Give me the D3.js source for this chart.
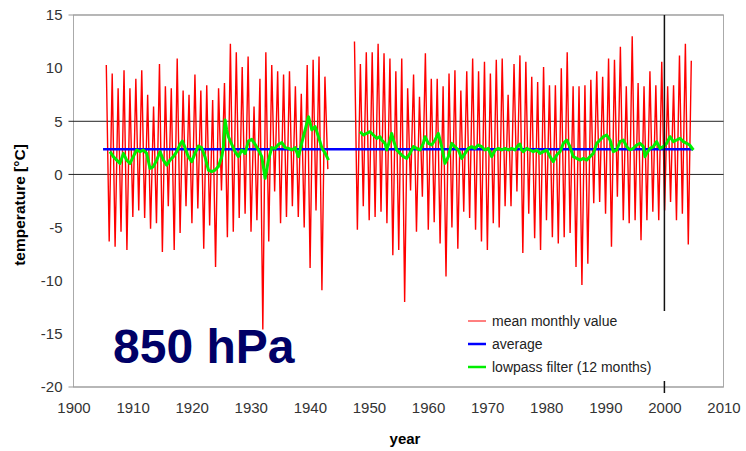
<!DOCTYPE html>
<html>
<head>
<meta charset="utf-8">
<script src="https://cdnjs.cloudflare.com/ajax/libs/d3/7.8.5/d3.min.js"></script>
<style>
body { margin: 0; background: #fff; }
svg { font-family: "Liberation Sans", Arial, sans-serif; }
</style>
</head>
<body>
<div id="chart"></div>
<script>
// Mean monthly temperature, 850 hPa. Read off the picture as the
// summer peak (July) and winter low (January) of each year.
var years = d3.range(1905, 2005);

var julyMax = [
  10.3, 9.5, 8.1, 9.8, 8.1, 9.0, 9.8, 7.5, 6.4, 10.4,
  8.3, 8.1, 10.9, 7.9, 7.5, 9.4, 7.9, 8.4, 7.0, 8.1,
  8.6, 12.3, 11.5, 10.1, 11.1, 6.4, 9.0, 11.5, 10.3, 9.7,
  9.4, 9.7, 8.3, 7.6, 10.3, 10.8, 11.1, 9.2, null, null,
  null, null, 12.5, 10.4, 11.5, 11.5, 12.3, 11.4, 10.9, 9.7,
  10.9, 8.1, 9.4, 7.3, 11.4, 9.0, 9.0, 8.3, 9.5, 9.8,
  7.9, 9.7, 10.9, 9.7, 10.6, 9.5, 10.8, 10.9, 7.5, 10.4,
  11.2, 10.6, 9.2, 8.7, 10.1, 8.4, 8.4, 10.0, 11.5, 8.3,
  8.3, 8.4, 8.9, 9.7, 9.2, 10.9, 10.8, 12.0, 8.3, 13.0,
  8.6, 8.3, 9.7, 8.4, 10.6, 8.3, 8.4, 11.2, 12.3, 10.7
];

var januaryMin = [
  null, -6.3, -6.8, -5.4, -7.1, -4.0, -3.4, -4.1, -5.1, -4.6,
  -7.3, -3.0, -7.1, -5.5, -3.0, -4.6, -3.2, -7.0, -4.8, -8.7,
  -1.5, -5.9, -5.4, -4.1, -3.7, -5.4, -4.3, -14.6, -6.3, -1.6,
  -4.6, -4.0, -3.0, -4.0, -5.0, -8.8, -3.4, -10.9, 0.5, null,
  null, null, null, -5.2, -3.0, -4.3, -4.0, -3.5, -4.6, -7.6,
  -7.1, -12.0, -1.5, -5.4, -2.1, -5.2, -4.5, -6.5, -9.6, -5.0,
  -7.0, -3.5, -4.1, -5.2, -6.3, -7.1, -4.6, -5.0, -3.0, -3.0,
  -1.6, -7.4, -3.7, -6.0, -7.1, -4.3, -5.9, -6.5, -5.9, -5.5,
  -8.7, -10.4, -8.4, -2.7, -2.6, -3.7, -6.8, -2.1, -4.3, -4.6,
  -4.3, -6.2, -4.3, -3.5, -4.3, -3.4, -2.6, -4.3, -3.7, -6.6
];

// long-term average
var average = 2.36;
var averageSpan = [1905.0, 2004.85];

// lowpass filter (12 months); null marks the gap in the record
var lowpassYears = [
  1906.18, 1906.74, 1907.31, 1907.87, 1908.44, 1909.00, 1909.56, 1910.12, 1910.69, 1911.26,
  1911.82, 1912.38, 1912.95, 1913.51, 1914.08, 1914.64, 1915.21, 1915.77, 1916.33, 1916.90,
  1917.47, 1918.03, 1918.42, 1918.87, 1919.43, 1920.00, 1920.56, 1921.13, 1921.69, 1922.25,
  1922.83, 1923.39, 1923.95, 1924.51, 1925.08, 1925.36, 1925.65, 1925.93, 1926.21, 1926.78,
  1927.34, 1927.90, 1928.48, 1929.04, 1929.60, 1930.16, 1930.73, 1931.30, 1931.86, 1932.43,
  1932.99, 1933.55, 1934.12, 1934.69, 1935.25, 1935.81, 1936.38, 1936.95, 1937.51, 1938.07,
  1938.64, 1939.20, 1939.77, 1940.33, 1940.90, 1941.46, 1942.03, 1942.60, 1943.16,
  1945.5,
  1948.49, 1949.05, 1949.61, 1950.18, 1950.74, 1951.31, 1951.87, 1952.15, 1952.72, 1953.00,
  1953.56, 1953.85, 1954.13, 1954.69, 1955.25, 1955.82, 1956.38, 1956.95, 1957.51, 1958.08,
  1958.64, 1959.20, 1959.49, 1960.05, 1960.62, 1961.18, 1961.74, 1962.31, 1962.87, 1963.44,
  1964.00, 1964.56, 1965.13, 1965.69, 1966.26, 1966.82, 1967.38, 1967.95, 1968.51, 1969.08,
  1969.64, 1970.20, 1970.77, 1971.34, 1971.90, 1972.46, 1973.02, 1973.59, 1974.16, 1974.72,
  1975.28, 1975.56, 1975.84, 1976.12, 1976.70, 1977.26, 1977.82, 1978.38, 1978.94, 1979.52,
  1980.08, 1980.64, 1981.20, 1981.76, 1982.34, 1982.90, 1983.46, 1984.02, 1984.58, 1985.16,
  1985.72, 1986.28, 1986.84, 1987.41, 1987.98, 1988.54, 1989.10, 1989.66, 1990.23, 1990.80,
  1991.36, 1991.92, 1992.48, 1993.05, 1993.62, 1994.18, 1994.74, 1995.30, 1995.87, 1996.44,
  1996.72, 1997.00, 1997.56, 1998.13, 1998.69, 1999.26, 1999.82, 2000.38, 2000.95, 2001.51,
  2002.08, 2002.64, 2003.21, 2003.77, 2004.27, 2004.90
];

var lowpassValues = [
  2.14, 1.67, 1.35, 1.04, 1.98, 1.35, 1.04, 1.67, 2.30, 2.14,
  2.30, 1.98, 0.57, 0.73, 1.35, 2.14, 1.35, 0.88, 1.35, 1.67,
  2.14, 2.83, 3.14, 2.52, 1.67, 1.20, 1.98, 2.67, 2.52, 1.67,
  0.41, 0.26, 0.41, 0.73, 1.67, 2.52, 5.12, 4.18, 3.55, 2.83,
  2.14, 1.67, 2.30, 1.98, 3.14, 3.30, 2.83, 2.30, 1.67, -0.37,
  1.35, 2.52, 2.45, 2.83, 3.00, 2.52, 2.45, 2.30, 2.52, 1.67,
  3.00, 4.18, 5.43, 4.18, 4.50, 3.55, 2.52, 1.98, 1.35,
  null,
  4.02, 3.71, 3.86, 4.02, 3.71, 3.39, 3.55, 3.24, 2.92, 2.30,
  3.24, 3.86, 3.24, 2.30, 1.98, 1.67, 1.51, 1.98, 2.61, 2.45,
  2.30, 2.92, 3.55, 2.92, 2.77, 3.24, 3.86, 2.61, 1.04, 1.67,
  2.92, 2.61, 2.30, 1.51, 1.98, 2.45, 2.61, 2.45, 2.77, 2.61,
  2.30, 2.45, 1.67, 2.30, 2.45, 2.30, 2.45, 2.30, 2.45, 2.30,
  2.77, 2.85, 2.30, 2.14, 2.45, 2.30, 2.14, 2.30, 1.98, 2.14,
  2.30, 1.67, 1.20, 1.83, 2.14, 2.92, 3.24, 2.61, 1.67, 1.51,
  1.35, 1.51, 1.35, 1.67, 1.98, 2.92, 3.24, 3.55, 3.71, 3.24,
  2.14, 2.30, 3.08, 3.24, 2.61, 2.30, 2.45, 2.77, 2.92, 2.61,
  1.67, 1.98, 2.45, 2.61, 3.08, 2.45, 2.61, 2.92, 3.55, 3.08,
  3.24, 3.39, 3.08, 2.92, 2.77, 2.30
];

var yTicks = [15, 10, 5, 0, -5, -10, -15, -20];
var xTicks = d3.range(1900, 2011, 10);
var gridValues = [15, 5, 0, -20];
var markYear = 2000;

var legendItems = [
  {label: "mean monthly value", color: "#ff0000", width: 1},
  {label: "average", color: "#0000ff", width: 2.5},
  {label: "lowpass filter (12 months)", color: "#00ee00", width: 2.5}
];

// plot box in pixels (names avoid window.top and friends)
var W = 746, H = 451;
var plotL = 73.5, plotR = 723.5, plotT = 15, plotB = 387;

var x = d3.scaleLinear().domain([1900, 2010]).range([plotL, plotR]);
var y = d3.scaleLinear().domain([-20, 15]).range([plotB, plotT]);

// plain hyphen for negatives, like the original
var plainNum = function(d) { return String(d); };

var svg = d3.select("#chart").append("svg").
    attr("width", W).
    attr("height", H);

// frame of the plot area
svg.append("rect").
    attr("x", plotL).attr("y", plotT).
    attr("width", plotR - plotL).attr("height", plotB - plotT).
    attr("fill", "none").
    attr("stroke", "#aaaaaa").
    attr("stroke-width", 1);

// horizontal grid lines, with short ticks out to the left
svg.selectAll("line.grid").
    data(gridValues).
    enter().append("line").
    attr("class", "grid").
    attr("x1", plotL - 5).
    attr("x2", plotR).
    attr("y1", function(d) { return y(d); }).
    attr("y2", function(d) { return y(d); }).
    attr("stroke", function(d) { return (d == 5 || d == 0) ? "#222" : "#999"; }).
    attr("stroke-width", 1);

// y axis labels
var yAxis = svg.append("g").
    attr("transform", "translate(" + plotL + ",0)").
    call(d3.axisLeft(y).tickValues(yTicks).tickSize(0).tickPadding(11).tickFormat(plainNum));
yAxis.select(".domain").remove();
yAxis.selectAll("text").
    attr("font-size", 15).
    attr("font-family", "Liberation Sans, Arial, sans-serif").
    attr("fill", "#333");

// x axis labels
var xAxis = svg.append("g").
    attr("transform", "translate(0," + plotB + ")").
    call(d3.axisBottom(x).tickValues(xTicks).tickSize(0).tickPadding(15).tickFormat(plainNum));
xAxis.select(".domain").remove();
xAxis.selectAll("text").
    attr("font-size", 15).
    attr("font-family", "Liberation Sans, Arial, sans-serif").
    attr("fill", "#333");

// monthly values: winter low then summer high, year by year
var monthly = [];
years.forEach(function(yr, i) {
    monthly.push({t: yr + 0.04, v: januaryMin[i]});
    monthly.push({t: yr + 0.55, v: julyMax[i]});
});

var line = d3.line().
    defined(function(d) { return d.v != null; }).
    x(function(d) { return x(d.t); }).
    y(function(d) { return y(d.v); });

svg.append("path").
    datum(monthly).
    attr("d", line).
    attr("fill", "none").
    attr("stroke", "#ff0000").
    attr("stroke-width", 1.4);

svg.append("line").
    attr("x1", x(averageSpan[0])).
    attr("x2", x(averageSpan[1])).
    attr("y1", y(average)).
    attr("y2", y(average)).
    attr("stroke", "#0000ff").
    attr("stroke-width", 2.5);

var lowpass = lowpassYears.map(function(t, i) { return {t: t, v: lowpassValues[i]}; });
svg.append("path").
    datum(lowpass).
    attr("d", line).
    attr("fill", "none").
    attr("stroke", "#00ee00").
    attr("stroke-width", 3).
    attr("stroke-linejoin", "round");

// marker line at 2000
svg.append("line").
    attr("x1", x(markYear)).attr("x2", x(markYear)).
    attr("y1", plotT).attr("y2", plotB + 6).
    attr("stroke", "#111").
    attr("stroke-width", 1.5);

// legend sits on a white box
var lg = svg.append("g").attr("transform", "translate(462,311)");
lg.append("rect").
    attr("width", 212).attr("height", 70).
    attr("fill", "#fff");
var rows = lg.selectAll("g").
    data(legendItems).
    enter().append("g").
    attr("transform", function(d, i) { return "translate(0," + (10 + i * 23) + ")"; });
rows.append("line").
    attr("x1", 6).attr("x2", 24).
    attr("stroke", function(d) { return d.color; }).
    attr("stroke-width", function(d) { return d.width; });
rows.append("text").
    attr("x", 30).
    attr("dy", "0.35em").
    attr("font-size", 14).
    attr("fill", "#222").
    text(function(d) { return d.label; });

// titles
svg.append("text").
    attr("x", 113).attr("y", 363).
    attr("font-size", 48).
    attr("font-weight", "bold").
    attr("fill", "#000066").
    text("850 hPa");

svg.append("text").
    attr("x", 405).attr("y", 444).
    attr("text-anchor", "middle").
    attr("font-size", 15).
    attr("font-weight", "bold").
    text("year");

svg.append("text").
    attr("transform", "translate(25,205) rotate(-90)").
    attr("text-anchor", "middle").
    attr("font-size", 15.5).
    attr("font-weight", "bold").
    text("temperature [°C]");
</script>
</body>
</html>
